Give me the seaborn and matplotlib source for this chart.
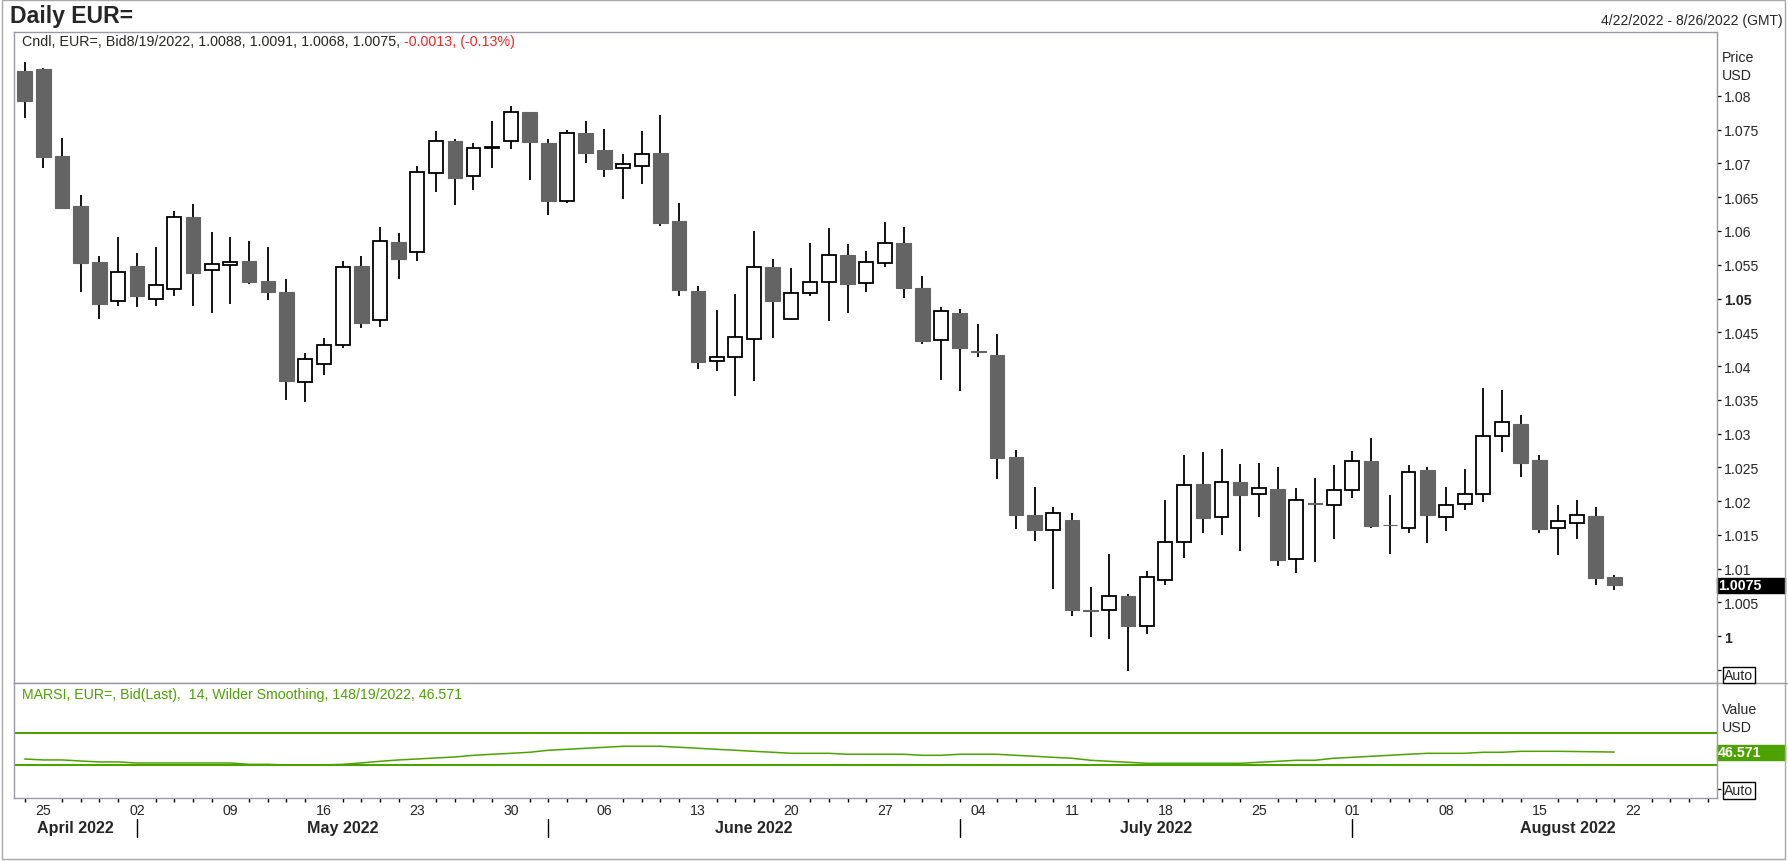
import numpy as np
import pandas as pd
import seaborn as sns
import matplotlib.pyplot as plt
from matplotlib.patches import Rectangle
from matplotlib.lines import Line2D

sns.set_style("white")
plt.rcParams["font.family"] = ["Liberation Sans", "DejaVu Sans"]

# daily EUR= bid candles, 22 Apr - 19 Aug 2022
days = pd.bdate_range("2022-04-22", "2022-08-19")
opens = [1.0837, 1.0840, 1.0711, 1.0637, 1.0554, 1.0496, 1.0548, 1.0499, 1.0514, 1.0621,
         1.0542, 1.0549, 1.0556, 1.0526, 1.0510, 1.0376, 1.0403, 1.0431, 1.0548, 1.0468,
         1.0584, 1.0569, 1.0686, 1.0733, 1.0681, 1.0723, 1.0734, 1.0776, 1.0731, 1.0645,
         1.0745, 1.0720, 1.0693, 1.0697, 1.0716, 1.0615, 1.0511, 1.0408, 1.0414, 1.0440,
         1.0546, 1.0469, 1.0508, 1.0524, 1.0564, 1.0523, 1.0552, 1.0582, 1.0516, 1.0438,
         1.0479, 1.0422, 1.0416, 1.0265, 1.0179, 1.0157, 1.0172, 1.0038, 1.0038, 1.0059,
         1.0015, 1.0083, 1.0140, 1.0225, 1.0176, 1.0228, 1.0210, 1.0218, 1.0114, 1.0197,
         1.0194, 1.0216, 1.0259, 1.0165, 1.0160, 1.0246, 1.0176, 1.0195, 1.0211, 1.0296,
         1.0314, 1.0261, 1.0160, 1.0167, 1.0178, 1.0088]
highs = [1.0851, 1.0841, 1.0738, 1.0653, 1.0563, 1.0591, 1.0567, 1.0576, 1.0630, 1.0640,
         1.0599, 1.0591, 1.0585, 1.0576, 1.0529, 1.0419, 1.0441, 1.0555, 1.0563, 1.0606,
         1.0597, 1.0696, 1.0748, 1.0737, 1.0730, 1.0763, 1.0785, 1.0777, 1.0737, 1.0750,
         1.0763, 1.0751, 1.0714, 1.0748, 1.0772, 1.0641, 1.0519, 1.0483, 1.0507, 1.0600,
         1.0559, 1.0545, 1.0582, 1.0604, 1.0581, 1.0570, 1.0613, 1.0606, 1.0534, 1.0487,
         1.0484, 1.0462, 1.0447, 1.0276, 1.0221, 1.0191, 1.0182, 1.0073, 1.0121, 1.0062,
         1.0096, 1.0201, 1.0268, 1.0273, 1.0277, 1.0255, 1.0256, 1.0250, 1.0219, 1.0234,
         1.0253, 1.0274, 1.0293, 1.0209, 1.0253, 1.0251, 1.0221, 1.0247, 1.0367, 1.0364,
         1.0327, 1.0268, 1.0194, 1.0201, 1.0191, 1.0091]
lows = [1.0767, 1.0694, 1.0633, 1.0510, 1.0469, 1.0489, 1.0488, 1.0489, 1.0503, 1.0489,
        1.0479, 1.0492, 1.0522, 1.0498, 1.0350, 1.0347, 1.0386, 1.0426, 1.0457, 1.0458,
        1.0529, 1.0555, 1.0658, 1.0639, 1.0660, 1.0694, 1.0722, 1.0676, 1.0624, 1.0642,
        1.0701, 1.0680, 1.0648, 1.0669, 1.0608, 1.0503, 1.0396, 1.0393, 1.0356, 1.0378,
        1.0442, 1.0469, 1.0504, 1.0466, 1.0479, 1.0509, 1.0547, 1.0501, 1.0432, 1.0380,
        1.0363, 1.0414, 1.0232, 1.0159, 1.0141, 1.0069, 1.0030, 0.9998, 0.9996, 0.9948,
        1.0003, 1.0076, 1.0116, 1.0153, 1.0150, 1.0126, 1.0177, 1.0104, 1.0094, 1.0110,
        1.0143, 1.0204, 1.0160, 1.0121, 1.0152, 1.0138, 1.0156, 1.0186, 1.0199, 1.0273,
        1.0235, 1.0152, 1.0120, 1.0143, 1.0076, 1.0068]
closes = [1.0793, 1.0710, 1.0634, 1.0553, 1.0492, 1.0540, 1.0503, 1.0520, 1.0620, 1.0538,
          1.0551, 1.0554, 1.0525, 1.0510, 1.0378, 1.0410, 1.0431, 1.0546, 1.0464, 1.0585,
          1.0559, 1.0688, 1.0733, 1.0679, 1.0723, 1.0724, 1.0776, 1.0732, 1.0645, 1.0745,
          1.0716, 1.0692, 1.0699, 1.0714, 1.0612, 1.0513, 1.0406, 1.0413, 1.0443, 1.0546,
          1.0497, 1.0508, 1.0524, 1.0564, 1.0522, 1.0554, 1.0582, 1.0516, 1.0437, 1.0481,
          1.0427, 1.0421, 1.0264, 1.0180, 1.0157, 1.0182, 1.0038, 1.0037, 1.0059, 1.0015,
          1.0087, 1.0140, 1.0223, 1.0175, 1.0228, 1.0209, 1.0219, 1.0113, 1.0201, 1.0196,
          1.0217, 1.0260, 1.0163, 1.0164, 1.0243, 1.0180, 1.0194, 1.0210, 1.0296, 1.0317,
          1.0257, 1.0159, 1.0170, 1.0179, 1.0086, 1.0075]

# MARSI 14, Wilder smoothing
rsi = [37.9, 36.7, 36.7, 35.4, 34.2, 34.2, 32.9, 32.9, 32.9, 32.9,
       32.9, 32.9, 31.2, 31.2, 30.4, 30.4, 30.4, 31.2, 33.0, 35.0,
       36.7, 37.9, 39.2, 40.4, 42.5, 43.8, 45.0, 46.3, 48.8, 50.0,
       51.3, 52.5, 53.8, 53.8, 53.8, 52.5, 51.3, 50.0, 48.8, 47.5,
       46.3, 45.0, 45.0, 45.0, 43.8, 43.8, 43.8, 43.8, 42.5, 42.5,
       43.8, 43.8, 43.8, 42.5, 41.3, 40.0, 38.8, 36.3, 35.0, 33.8,
       32.5, 32.5, 32.5, 32.5, 32.5, 32.5, 33.8, 35.0, 36.3, 36.3,
       38.8, 40.0, 41.3, 42.5, 43.8, 45.0, 45.0, 45.0, 46.3, 46.3,
       47.5, 47.5, 47.5, 47.2, 46.9, 46.571]
rsi_levels = [70, 30]

price_ticks = [0.995, 1.0, 1.005, 1.01, 1.015, 1.02, 1.025, 1.03, 1.035, 1.04,
               1.045, 1.05, 1.055, 1.06, 1.065, 1.07, 1.075, 1.08]
week_labels = ["25", "02", "09", "16", "23", "30", "06", "13", "20", "27",
               "04", "11", "18", "25", "01", "08", "15", "22"]
month_labels = ["April 2022", "May 2022", "June 2022", "July 2022", "August 2022"]

axis_days = pd.bdate_range("2022-04-22", "2022-08-26")
month_days = pd.bdate_range("2022-04-22", "2022-09-01")

df = pd.DataFrame({"day": days, "open": opens, "high": highs, "low": lows, "close": closes,
                   "rsi": rsi})
df["x"] = np.arange(len(df))
up = df[df["close"] >= df["open"]]
down = df[df["close"] < df["open"]]

W, H = 1788, 862
GRAY = "#9a9aa6"
GREEN = "#4ca300"


def fx(px):
    return px / W


def fy(py):
    return 1 - py / H


fig = plt.figure(figsize=(W / 100, H / 100), dpi=100)
L, R = 14.5, 1716.5
ax = fig.add_axes([fx(L), fy(684), fx(R - L), (684 - 33) / H])
ax_rsi = fig.add_axes([fx(L), fy(799.3), fx(R - L), (799.3 - 684) / H], sharex=ax)

# candles
ax.vlines(df["x"], df["low"], df["high"], color="black", lw=1.3, zorder=1)
ax.bar(down["x"], down["open"] - down["close"], bottom=down["close"], width=0.78,
       color="#646464", edgecolor="#646464", lw=0.8, zorder=2)
ax.bar(up["x"], up["close"] - up["open"], bottom=up["open"], width=0.74,
       color="white", edgecolor="black", lw=1.3, zorder=2)

ax.set_xlim(-0.545, 90.47)
ax.set_ylim(0.99304, 1.08948)
ax.yaxis.tick_right()
ax.set_yticks(price_ticks)
ax.set_yticklabels(["" if v < 1 else f"{v:.3f}".rstrip("0").rstrip(".") for v in price_ticks])
for t in ax.get_yticklabels():
    if t.get_text() in ("1", "1.05"):
        t.set_fontweight("bold")
ax.tick_params(axis="y", which="major", right=True, left=False, length=3.1, width=0.9,
               color="black", labelsize=10.2, pad=2.5)
ax.tick_params(axis="x", which="both", length=0, labelbottom=False, bottom=False)
ax.set_xlabel("")
ax.set_ylabel("")

# last price tag
tag_h = 15 / 6750
ax.add_patch(Rectangle((1.0, closes[-1] - tag_h / 2), (1785 - R) / (R - L), tag_h,
                       transform=ax.get_yaxis_transform(), color="black", clip_on=False))
ax.text(1.001, closes[-1], f"{closes[-1]:.4f}", transform=ax.get_yaxis_transform(),
        color="white", fontweight="bold", fontsize=10.2, va="center", ha="left")

# rsi panel
sns.lineplot(x=df["x"], y=df["rsi"], ax=ax_rsi, color=GREEN, lw=1.1)
for lvl in rsi_levels:
    ax_rsi.axhline(lvl, color=GREEN, lw=1.5)
ax_rsi.set_ylim(-11.25, 132.9)
ax_rsi.set_xlabel("")
ax_rsi.set_ylabel("")
ax_rsi.yaxis.tick_right()
ax_rsi.set_yticks([0])
ax_rsi.set_yticklabels([""])
ax_rsi.tick_params(axis="y", right=True, left=False, length=3.1, width=0.9, color="black")

tag_v = 15 / 0.8
ax_rsi.add_patch(Rectangle((1.0, rsi[-1] - tag_v / 2), (1785 - R) / (R - L), tag_v,
                           transform=ax_rsi.get_yaxis_transform(), color=GREEN, clip_on=False))
ax_rsi.text(1.001, rsi[-1], f"{rsi[-1]:.3f}", transform=ax_rsi.get_yaxis_transform(),
            color="white", fontweight="bold", fontsize=10.2, va="center", ha="left")

# date axis
mondays = np.flatnonzero(axis_days.weekday == 0)
others = np.flatnonzero(axis_days.weekday != 0)
ax_rsi.set_xticks(mondays)
ax_rsi.set_xticklabels(week_labels)
ax_rsi.set_xticks(others, minor=True)
ax_rsi.tick_params(axis="x", which="major", bottom=True, length=0, labelsize=10.2, pad=3.5)
ax_rsi.tick_params(axis="x", which="minor", bottom=True, length=3, width=1, color="black",
                   direction="out")
ax_rsi.set_xlim(-0.545, 90.47)

starts = [i for i in range(1, len(month_days)) if month_days[i].month != month_days[i - 1].month]
bounds = [ax.get_xlim()[0]] + starts
xt = ax_rsi.get_xaxis_transform()
for b in starts[:-1]:
    ax_rsi.plot([b, b], [-0.18, -0.335], transform=xt, color="black", lw=1, clip_on=False)
for name, a, b in zip(month_labels, bounds[:-1], bounds[1:]):
    ax_rsi.text((a + b) / 2, -0.252, name, transform=xt, ha="center", va="center",
                fontsize=11.6, fontweight="bold")

for a in (ax, ax_rsi):
    for s in a.spines.values():
        s.set_color(GRAY)
        s.set_linewidth(1)

# texts
fig.text(fx(10), fy(17), "Daily EUR=", fontsize=16.6, fontweight="bold", va="center")
fig.text(fx(1783), fy(21), "4/22/2022 - 8/26/2022 (GMT)", fontsize=10, va="center", ha="right")
t1 = fig.text(fx(22), fy(42), "Cndl, EUR=, Bid8/19/2022, 1.0088, 1.0091, 1.0068, 1.0075, ",
              fontsize=10.3, va="center")
ax.annotate("-0.0013, (-0.13%)", xy=(1, 0.5), xycoords=t1, va="center", ha="left",
            fontsize=10.3, color="#ff2020")
fig.text(fx(22), fy(695), "MARSI, EUR=, Bid(Last),  14, Wilder Smoothing, 148/19/2022, 46.571",
         fontsize=10.2, va="center", color=GREEN)
fig.text(fx(1722), fy(58), "Price", fontsize=10.2, va="center")
fig.text(fx(1722), fy(76), "USD", fontsize=10.2, va="center")
fig.text(fx(1722), fy(710), "Value", fontsize=10.2, va="center")
fig.text(fx(1722), fy(728), "USD", fontsize=10.2, va="center")
for yy in (676, 791.5):
    fig.text(fx(1724), fy(yy), "Auto", fontsize=10.2, va="center",
             bbox=dict(boxstyle="square,pad=0.1", fc="white", ec="black", lw=1))

fig.add_artist(Line2D([fx(R), 1], [fy(684), fy(684)], color=GRAY, lw=1))
fig.add_artist(Rectangle((fx(2), fy(860)), fx(1783), 859 / H, fill=False, ec="#a8a8a8", lw=1,
                         transform=fig.transFigure))

fig.savefig("out.png", dpi=100)
